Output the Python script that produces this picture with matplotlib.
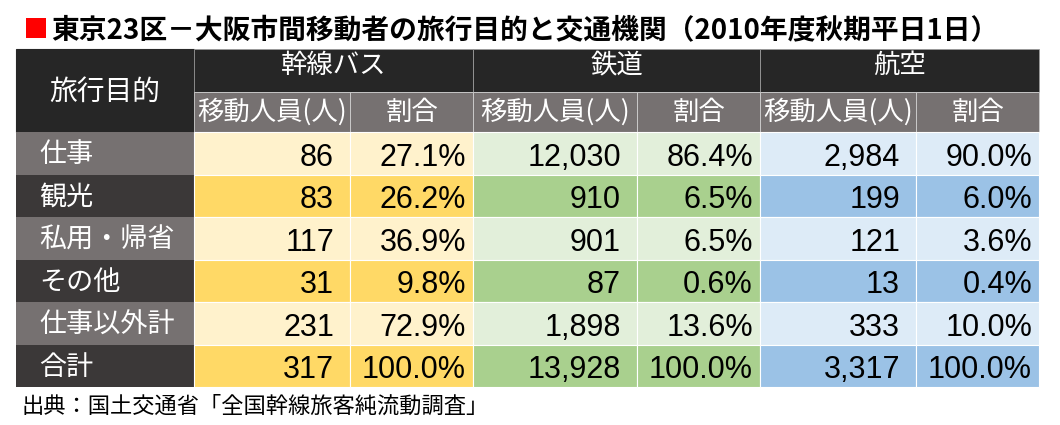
import matplotlib.pyplot as plt
from matplotlib.patches import Rectangle

# --- data ---
purposes = ['仕事', '観光', '私用・帰省', 'その他', '仕事以外計', '合計']
modes = ['幹線バス', '鉄道', '航空']
sub_headers = ['移動人員(人)', '割合']
bus_people = [86, 83, 117, 31, 231, 317]
bus_share = [27.1, 26.2, 36.9, 9.8, 72.9, 100.0]
rail_people = [12030, 910, 901, 87, 1898, 13928]
rail_share = [86.4, 6.5, 6.5, 0.6, 13.6, 100.0]
air_people = [2984, 199, 121, 13, 333, 3317]
air_share = [90.0, 6.0, 3.6, 0.4, 10.0, 100.0]

title = '東京23区－大阪市間移動者の旅行目的と交通機関（2010年度秋期平日1日）'
source = '出典：国土交通省「全国幹線旅客純流動調査」'

# --- layout (pixel coords) ---
col_edges = [16, 194, 350, 473, 637, 760, 916, 1039]
head_top, head_mid, head_bot = 49, 92, 132
row_h = 42.5

jp = ['Noto Sans CJK JP', 'DejaVu Sans']
num_font = ['Liberation Sans', 'DejaVu Sans']

dark_head = '#262626'
sub_gray = '#767171'
label_dark = '#3b3838'
light = ['#fff2cc', '#e2efda', '#ddebf7']
strong = ['#ffd966', '#a9d08e', '#9bc2e6']

fig = plt.figure(figsize=(10.6, 4.25), dpi=100)
ax = fig.add_axes([0, 0, 1, 1])
ax.set_xlim(0, 1060)
ax.set_ylim(425, 0)
ax.axis('off')


def cell(x0, x1, y0, y1, fc, ec='white', lw=0.8):
    ax.add_patch(Rectangle((x0, y0), x1 - x0, y1 - y0, facecolor=fc,
                           edgecolor=ec, linewidth=lw))


# title
ax.add_patch(Rectangle((26, 18), 20, 20, facecolor='#ff0000', edgecolor='none'))
ax.text(51, 39, title, fontsize=20, fontweight='bold', family=jp,
        ha='left', va='baseline', color='black')

# header
cell(col_edges[0], col_edges[1], head_top, head_bot, dark_head, ec=dark_head)
ax.text((col_edges[0] + col_edges[1]) / 2, (head_top + head_bot) / 2 + 1, '旅行目的',
        fontsize=20, family=jp, color='white', ha='center', va='center')
for m, name in enumerate(modes):
    x0, x1 = col_edges[1 + 2 * m], col_edges[3 + 2 * m]
    cell(x0, x1, head_top, head_mid, dark_head, ec='#9a9a9a', lw=0.6)
    ax.text((x0 + x1) / 2, head_mid - 27, name, fontsize=19, family=jp,
            color='white', ha='center', va='center')
    for s, sub in enumerate(sub_headers):
        sx0, sx1 = col_edges[1 + 2 * m + s], col_edges[2 + 2 * m + s]
        cell(sx0, sx1, head_mid, head_bot, sub_gray, ec='#d0d0d0', lw=0.6)
        ax.text((sx0 + sx1) / 2, (head_mid + head_bot) / 2, sub, fontsize=19,
                family=jp, color='white', ha='center', va='center')

# body
people = [bus_people, rail_people, air_people]
shares = [bus_share, rail_share, air_share]
for r, purpose in enumerate(purposes):
    y0 = head_bot + r * row_h
    y1 = y0 + row_h
    yc = (y0 + y1) / 2
    alt = r % 2 == 1
    cell(col_edges[0], col_edges[1], y0, y1, label_dark if alt else sub_gray,
         ec='none', lw=0)
    ax.text(39, yc + 1.5, purpose, fontsize=19.5, family=jp, color='white',
            ha='left', va='center')
    for m in range(3):
        fc = strong[m] if alt else light[m]
        x0, x1, x2 = col_edges[1 + 2 * m], col_edges[2 + 2 * m], col_edges[3 + 2 * m]
        cell(x0, x1, y0, y1, fc)
        cell(x1, x2, y0, y1, fc)
        ax.text(x1 - 16, y1 - 9, f'{people[m][r]:,}', fontsize=22,
                family=num_font, color='black', ha='right', va='baseline')
        ax.text(x2 - 7, y1 - 9, f'{shares[m][r]:.1f}%', fontsize=22,
                family=num_font, color='black', ha='right', va='baseline')

ax.text(22, 413, source, fontsize=16, family=jp, color='black',
        ha='left', va='baseline')

fig.savefig('out.png', dpi=100)
